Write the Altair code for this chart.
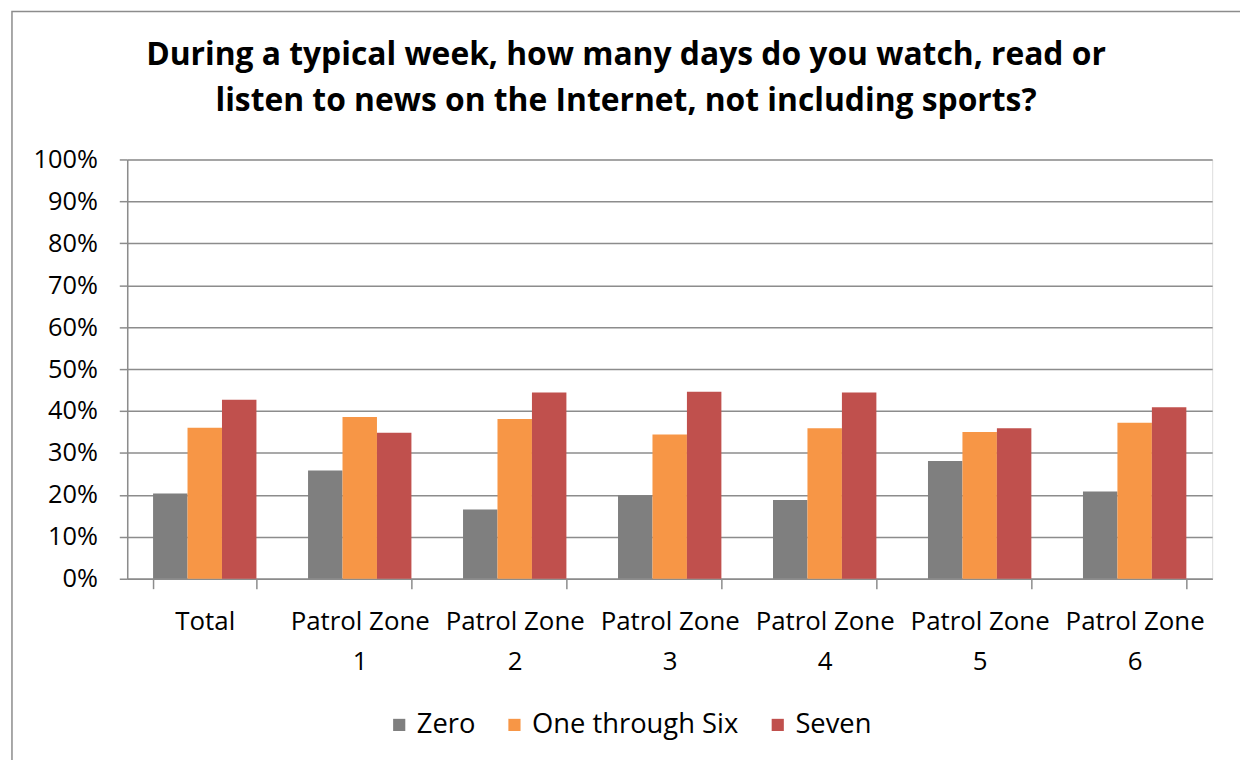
import altair as alt
import pandas as pd

categories = ["Total", "Patrol Zone 1", "Patrol Zone 2", "Patrol Zone 3",
              "Patrol Zone 4", "Patrol Zone 5", "Patrol Zone 6"]
series = ["Zero", "One through Six", "Seven"]
zero = [20.3, 25.8, 16.5, 19.9, 18.8, 28.1, 20.8]
one_six = [36.0, 38.6, 38.1, 34.4, 35.9, 35.0, 37.2]
seven = [42.7, 34.8, 44.4, 44.6, 44.4, 35.9, 40.9]
colors = ["#7f7f7f", "#f79646", "#c0504d"]

rows = []
for i, c in enumerate(categories):
    for s, vals in zip(series, [zero, one_six, seven]):
        rows.append({"category": c, "series": s, "value": vals[i] / 100.0})
df = pd.DataFrame(rows)

FONT = "Open Sans"
W, H = 1092, 422

bars = alt.Chart(df).mark_bar().encode(
    x=alt.X("category:N", sort=categories,
            scale=alt.Scale(paddingInner=0.333, paddingOuter=0.1667),
            axis=alt.Axis(title=None, labelAngle=0, tickBand="extent",
                          labelExpr="indexof(datum.label, 'Zone') >= 0 ? ['Patrol Zone', substring(datum.label, 12)] : datum.label",
                          labelFontSize=26, labelFont=FONT, labelColor="#000",
                          labelPadding=20, labelLineHeight=40, labelBaseline="top",
                          tickSize=10, tickColor="#8c8c8c", tickWidth=1.5,
                          domainColor="#8c8c8c", domainWidth=1.5, grid=False)),
    xOffset=alt.XOffset("series:N", sort=series),
    y=alt.Y("value:Q", scale=alt.Scale(domain=[0, 1]),
            axis=alt.Axis(title=None, format=".0%", values=[i / 10 for i in range(11)],
                          labelFontSize=25.5, labelFont=FONT, labelColor="#000",
                          labelPadding=22, tickSize=8, tickColor="#8c8c8c", tickWidth=1.5,
                          domainColor="#8c8c8c", domainWidth=1.5,
                          gridColor="#8c8c8c", gridWidth=1.5)),
    color=alt.Color("series:N", sort=series,
                    scale=alt.Scale(domain=series, range=colors),
                    legend=alt.Legend(title=None, orient="none", direction="horizontal",
                                      legendX=260, legendY=555,
                                      symbolType="square", symbolSize=150,
                                      symbolStrokeWidth=0, labelLimit=0,
                                      labelFontSize=27.5, labelFont=FONT, labelColor="#000",
                                      labelOffset=4, columnPadding=25)),
)

frame = alt.Chart(pd.DataFrame({"a": [0]})).mark_rect(
    fill=None, stroke="#8c8c8c", strokeWidth=1.5
).encode(x=alt.value(-116), x2=alt.value(W + 200), y=alt.value(-149), y2=alt.value(H + 200))

chart = alt.layer(frame, bars).properties(
    width=W, height=H,
    title=alt.Title(["During a typical week, how many days do you watch, read or",
                     "listen to news on the Internet, not including sports?"],
                    fontSize=32, font=FONT, fontWeight="bold", color="#000",
                    lineHeight=46, anchor="middle", dx=-44, offset=0, dy=108),
    autosize=alt.AutoSizeParams(type="none"),
    padding={"left": 120, "top": 150, "right": 28, "bottom": 180},
).configure_view(stroke=None).configure(background="white")

chart.save("out.html", embed_options={"renderer": "svg", "actions": False})
